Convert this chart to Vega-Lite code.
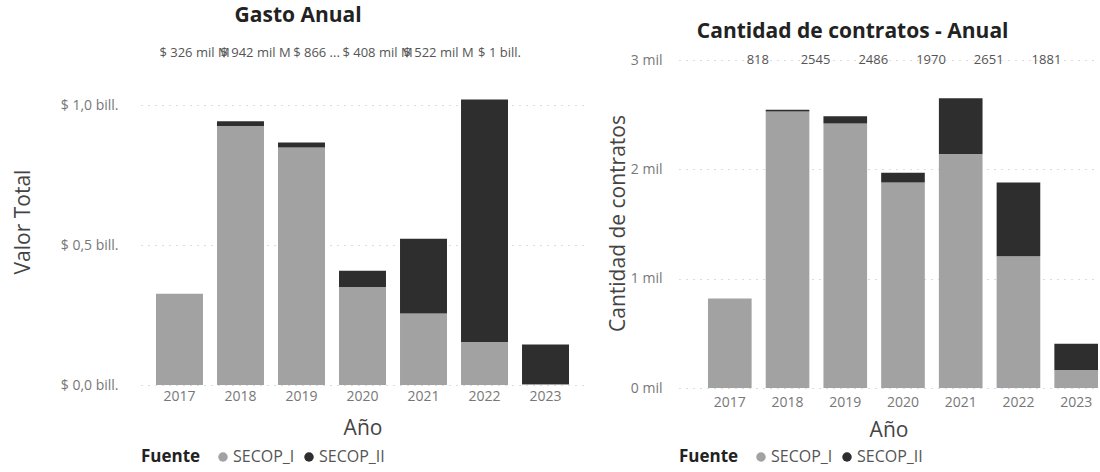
{
  "$schema": "https://vega.github.io/schema/vega-lite/v6.json",
  "background": "white",
  "padding": {"left": 12, "top": 4, "right": 2, "bottom": 6},
  "spacing": 23,
  "datasets": {
    "fuentes": [
      {"anio": "2017", "fuente": "SECOP_I", "valor": 0.326, "contratos": 818},
      {"anio": "2017", "fuente": "SECOP_II", "valor": 0.0, "contratos": 0},
      {"anio": "2018", "fuente": "SECOP_I", "valor": 0.925, "contratos": 2530},
      {"anio": "2018", "fuente": "SECOP_II", "valor": 0.017, "contratos": 15},
      {"anio": "2019", "fuente": "SECOP_I", "valor": 0.848, "contratos": 2420},
      {"anio": "2019", "fuente": "SECOP_II", "valor": 0.018, "contratos": 66},
      {"anio": "2020", "fuente": "SECOP_I", "valor": 0.35, "contratos": 1880},
      {"anio": "2020", "fuente": "SECOP_II", "valor": 0.058, "contratos": 90},
      {"anio": "2021", "fuente": "SECOP_I", "valor": 0.255, "contratos": 2140},
      {"anio": "2021", "fuente": "SECOP_II", "valor": 0.267, "contratos": 511},
      {"anio": "2022", "fuente": "SECOP_I", "valor": 0.154, "contratos": 1205},
      {"anio": "2022", "fuente": "SECOP_II", "valor": 0.866, "contratos": 676},
      {"anio": "2023", "fuente": "SECOP_I", "valor": 0.004, "contratos": 165},
      {"anio": "2023", "fuente": "SECOP_II", "valor": 0.141, "contratos": 240}
    ],
    "totales": [
      {"anio": "2017", "etiqueta_gasto": "$ 326 mil M", "etiqueta_contratos": "818"},
      {"anio": "2018", "etiqueta_gasto": "$ 942 mil M", "etiqueta_contratos": "2545"},
      {"anio": "2019", "etiqueta_gasto": "$ 866 ...", "etiqueta_contratos": "2486"},
      {"anio": "2020", "etiqueta_gasto": "$ 408 mil M", "etiqueta_contratos": "1970"},
      {"anio": "2021", "etiqueta_gasto": "$ 522 mil M", "etiqueta_contratos": "2651"},
      {"anio": "2022", "etiqueta_gasto": "$ 1 bill.", "etiqueta_contratos": "1881"}
    ]
  },
  "config": {
    "view": {"stroke": null},
    "font": "Open Sans",
    "title": {"font": "Open Sans", "fontSize": 21, "fontWeight": "bold", "color": "#222222", "anchor": "middle", "frame": "bounds", "baseline": "bottom"},
    "axis": {
      "domain": false,
      "ticks": false,
      "labelFont": "Open Sans",
      "labelFontSize": 14,
      "labelColor": "#777777",
      "titleFont": "Open Sans",
      "titleFontSize": 21,
      "titleFontWeight": "normal",
      "titleColor": "#444444"
    },
    "axisX": {"grid": false, "labelAngle": 0},
    "axisY": {"grid": true, "gridColor": "#bbbbbb", "gridDash": [1, 6], "gridWidth": 1},
    "legend": {
      "orient": "bottom",
      "direction": "horizontal",
      "titleOrient": "left",
      "titleFont": "Open Sans",
      "titleFontWeight": "bold",
      "titleFontSize": 17,
      "titleColor": "#222222",
      "titlePadding": 14,
      "labelFont": "Open Sans",
      "labelFontSize": 16,
      "labelColor": "#555555",
      "labelOffset": 2,
      "columnPadding": 6,
      "symbolType": "circle",
      "symbolSize": 90,
      "symbolStrokeWidth": 0
    }
  },
  "resolve": {"legend": {"color": "independent"}},
  "hconcat": [
    {
      "title": {"text": "Gasto Anual", "offset": 21},
      "width": 443,
      "height": 327,
      "layer": [
        {
          "data": {"name": "fuentes"},
          "mark": {"type": "bar"},
          "encoding": {
            "x": {"field": "anio", "type": "ordinal", "title": "Año", "scale": {"paddingInner": 0.23, "paddingOuter": 0.246}, "axis": {"labelPadding": 4, "titlePadding": 14}},
            "y": {
              "field": "valor", "type": "quantitative", "stack": "zero", "title": "Valor Total",
              "scale": {"domain": [0, 1.168], "nice": false},
              "axis": {"values": [0, 0.5, 1], "labelExpr": "'$ ' + replace(format(datum.value, '.1f'), '.', ',') + ' bill.'", "labelPadding": 23, "titlePadding": 27}
            },
            "color": {"field": "fuente", "type": "nominal", "title": "Fuente", "scale": {"domain": ["SECOP_I", "SECOP_II"], "range": ["#a2a2a2", "#2e2e2e"]}, "legend": {"offset": 11}},
            "order": {"field": "fuente", "sort": "ascending"}
          }
        },
        {
          "data": {"name": "totales"},
          "mark": {"type": "text", "font": "Open Sans", "fontSize": 13, "color": "#555555", "baseline": "middle", "dx": 15},
          "encoding": {
            "x": {"field": "anio", "type": "ordinal"},
            "y": {"datum": 1.186, "type": "quantitative"},
            "text": {"field": "etiqueta_gasto"}
          }
        }
      ]
    },
    {
      "title": {"text": "Cantidad de contratos - Anual", "offset": 11},
      "width": 419,
      "height": 330,
      "layer": [
        {
          "data": {"name": "fuentes"},
          "mark": {"type": "bar"},
          "encoding": {
            "x": {"field": "anio", "type": "ordinal", "title": "Año", "scale": {"paddingInner": 0.244, "paddingOuter": 0.251, "align": 1}, "axis": {"labelPadding": 7, "titlePadding": 10}},
            "y": {
              "field": "contratos", "type": "quantitative", "stack": "zero", "title": "Cantidad de contratos",
              "scale": {"domain": [0, 3019], "nice": false},
              "axis": {"values": [0, 1000, 2000, 3000], "labelExpr": "format(datum.value / 1000, 'd') + ' mil'", "labelPadding": 17, "titlePadding": 2}
            },
            "color": {"field": "fuente", "type": "nominal", "title": "Fuente", "scale": {"domain": ["SECOP_I", "SECOP_II"], "range": ["#a2a2a2", "#2e2e2e"]}, "legend": {"offset": 9}},
            "order": {"field": "fuente", "sort": "ascending"}
          }
        },
        {
          "data": {"name": "totales"},
          "mark": {"type": "text", "font": "Open Sans", "fontSize": 13, "color": "#555555", "baseline": "middle", "dx": 28},
          "encoding": {
            "x": {"field": "anio", "type": "ordinal"},
            "y": {"datum": 3000, "type": "quantitative"},
            "text": {"field": "etiqueta_contratos"}
          }
        }
      ]
    }
  ]
}
